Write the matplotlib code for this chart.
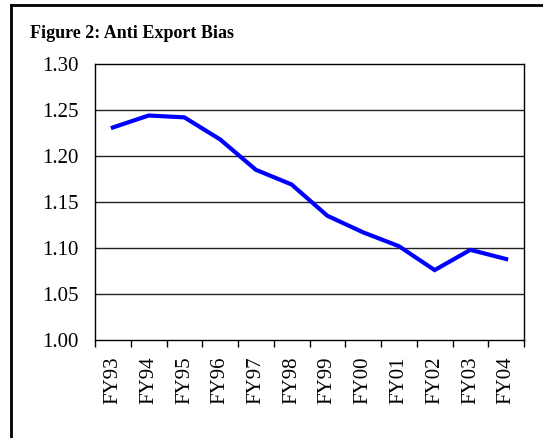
import matplotlib
matplotlib.use("Agg")
import matplotlib.pyplot as plt
from matplotlib.lines import Line2D
import numpy as np

categories = ["FY93", "FY94", "FY95", "FY96", "FY97", "FY98", "FY99", "FY00", "FY01", "FY02", "FY03", "FY04"]
values = [1.231, 1.244, 1.242, 1.218, 1.185, 1.169, 1.135, 1.117, 1.102, 1.076, 1.098, 1.088]
yticks = [1.00, 1.05, 1.10, 1.15, 1.20, 1.25, 1.30]
title = "Figure 2: Anti Export Bias"

plt.rcParams['font.family'] = ['Liberation Serif', 'DejaVu Serif']

W, H = 543, 438
fig = plt.figure(figsize=(W / 100, H / 100), dpi=100)
ax = fig.add_axes([95 / W, 1 - 340 / H, (524 - 95) / W, (340 - 64) / H])

x = np.arange(len(categories))
ax.plot(x, values, color="#0000ff", lw=3, solid_joinstyle="miter", zorder=3)

ax.set_xlim(-0.5, len(categories) - 0.5)
ax.set_ylim(yticks[0], yticks[-1])
ax.set_yticks(yticks)
ax.set_yticklabels([f"{v:.2f}" for v in yticks], fontsize=15)
for v in yticks[1:-1]:
    ax.axhline(v, color="#222222", lw=1, zorder=1)
ax.tick_params(axis="y", length=0, pad=12)

ax.set_xticks(x)
ax.set_xticklabels(categories, rotation=90, fontsize=15)
ax.set_xticks(np.arange(-0.5, len(categories), 1), minor=True)
ax.tick_params(axis="x", which="major", length=0, pad=12)
ax.tick_params(axis="x", which="minor", length=5, width=1, direction="out", color="black")
for s in ax.spines.values():
    s.set_color("black")
    s.set_linewidth(1)

fig.text(30 / W, 1 - 33 / H, title, fontsize=13, fontweight="bold", va="center", ha="left")

# outer frame (top and left visible)
fig.add_artist(Line2D([11 / W, 1], [1 - 5 / H, 1 - 5 / H], color="black", lw=2, transform=fig.transFigure))
fig.add_artist(Line2D([11 / W, 11 / W], [0, 1 - 5 / H], color="black", lw=2, transform=fig.transFigure))

fig.savefig("out.png", dpi=100)
